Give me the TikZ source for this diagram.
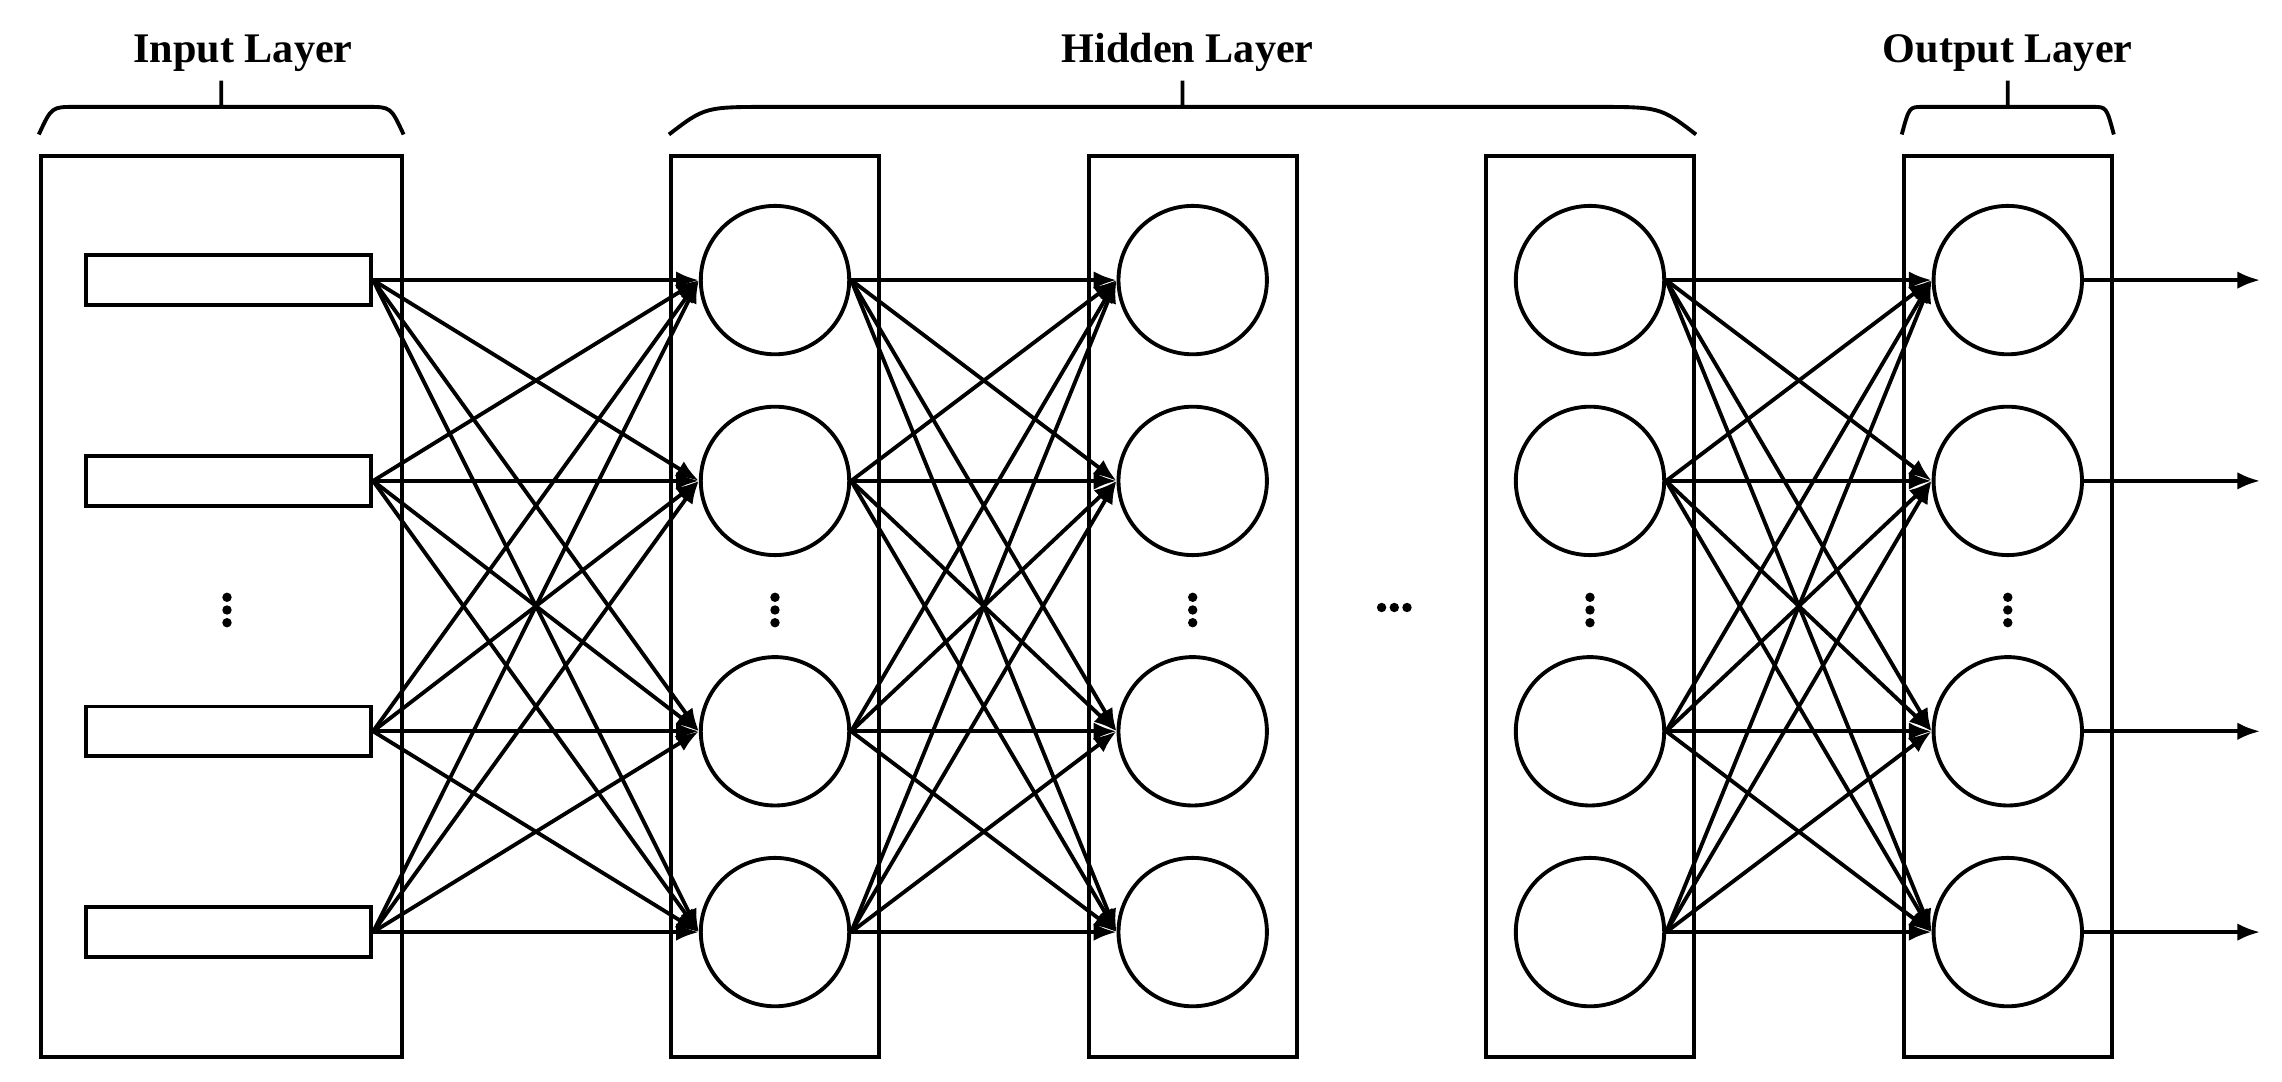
\documentclass[tikz,border=0pt]{standalone}
\usepackage{fontspec}
\setmainfont{Liberation Serif}
\usetikzlibrary{arrows.meta,calc}

\begin{document}
\begin{tikzpicture}[line width=1.1pt,
  every node/.style={font=\bfseries\fontsize{12}{14}\selectfont},
  layerbox/.style={draw, minimum width=2.082cm, minimum height=9.009cm, inner sep=0pt},
  neuron/.style={draw, circle, minimum size=1.484cm, inner sep=0pt},
  inputcell/.style={draw, minimum width=2.853cm, minimum height=0.495cm, inner sep=0pt},
  conn/.style={-{Latex[length=6.5pt,width=5pt]}}]
  \useasboundingbox (0,0) rectangle (22.82,10.82);
  \node[layerbox, minimum width=3.609cm] (inbox) at (2.212,4.752) {};
  \foreach \i/\y in {1/8.019,2/6.011,3/3.507,4/1.499}
    \node[inputcell] (in\i) at (2.285,\y) {};
  \foreach \n/\x in {hA/7.750,hB/11.927,hC/15.900,out/20.078} {
    \node[layerbox] (\n box) at (\x,4.752) {};
    \foreach \i/\y in {1/8.019,2/6.011,3/3.507,4/1.499}
      \node[neuron] (\n\i) at (\x,\y) {};
    \foreach \k in {-1,0,1}
      \fill (\x,4.72+\k*0.127) circle (0.047);
  }
  \foreach \k in {-1,0,1} {
    \fill (2.27,4.72+\k*0.127) circle (0.047);
    \fill (13.943+\k*0.127,4.745) circle (0.047);
  }
  \foreach \i in {1,...,4}
    \foreach \j in {1,...,4} {
      \draw[conn] (in\i.east) -- (hA\j.west);
      \draw[conn] (hA\i.east) -- (hB\j.west);
      \draw[conn] (hC\i.east) -- (out\j.west);
    }
  \coordinate (outend) at (22.602,0);
  \foreach \i in {1,...,4}
    \draw[conn] (out\i.east) -- (out\i.east -| outend);
  \foreach \b/\e/\t/\tx in {inbox/inbox/Input Layer/2.43,hAbox/hCbox/Hidden Layer/11.876,outbox/outbox/Output Layer/20.077} {
    \draw let \p1=(\b.north west), \p2=(\e.north east), \n1={0.1*(\x2-\x1)}, \n2={0.5*(\x1+\x2)} in
      (\x1,9.475cm) .. controls (\x1+0.35*\n1,9.751cm) .. (\x1+\n1,9.751cm) -- (\x2-\n1,9.751cm)
      .. controls (\x2-0.35*\n1,9.751cm) .. (\x2,9.475cm)
      (\n2,9.751cm) -- (\n2,10.013cm);
    \node[anchor=base] (\b title) at (\tx,10.195) {\t};
  }
\end{tikzpicture}
\end{document}
